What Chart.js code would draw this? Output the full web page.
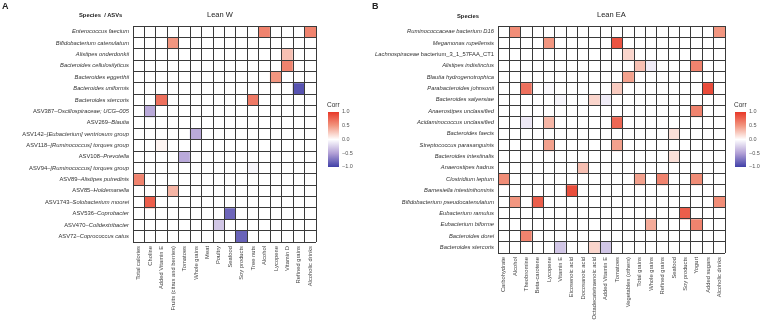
<!DOCTYPE html>
<html><head><meta charset="utf-8">
<script src="https://cdn.jsdelivr.net/npm/chart.js@4.4.0/dist/chart.umd.min.js"></script>
<style>
html,body{margin:0;padding:0;background:#fff;}
#wrap{position:relative;width:762px;height:321px;overflow:hidden;font-family:"Liberation Sans",Arial,sans-serif;}
canvas{position:absolute;top:0;}
.t{position:absolute;white-space:nowrap;color:#222;line-height:1;}
.bar{position:absolute;width:11px;height:55px;background:linear-gradient(to bottom,#e83828 0%,#f29680 25%,#ffffff 50%,#b2a0d6 75%,#4040a8 100%);}
.lt{position:absolute;font-size:5.5px;color:#555;line-height:1;}
</style></head><body>
<div id="wrap">
<canvas id="cA" width="370" height="321" style="left:0"></canvas>
<canvas id="cB" width="392" height="321" style="left:370px"></canvas>
<div class="t" style="left:2px;top:2px;font-size:9px;font-weight:bold;">A</div>
<div class="t" style="left:372px;top:2px;font-size:9px;font-weight:bold;">B</div>
<div class="t" style="left:207px;top:11px;font-size:7.5px;">Lean W</div>
<div class="t" style="left:597px;top:11px;font-size:7.5px;">Lean EA</div>
<div class="t" style="left:79px;top:13px;font-size:5.8px;font-weight:bold;">Species &nbsp;/ ASVs</div>
<div class="t" style="left:457px;top:14px;font-size:5.8px;font-weight:bold;">Species</div>
<div class="t" style="left:327px;top:102px;font-size:6.5px;color:#333;">Corr</div>
<div class="bar" style="left:328px;top:112px;"></div>
<div class="lt" style="left:342px;top:109px;">1.0</div>
<div class="lt" style="left:342px;top:123px;">0.5</div>
<div class="lt" style="left:342px;top:137px;">0.0</div>
<div class="lt" style="left:342px;top:151px;">−0.5</div>
<div class="lt" style="left:342px;top:164px;">−1.0</div>
<div class="t" style="left:734px;top:102px;font-size:6.5px;color:#333;">Corr</div>
<div class="bar" style="left:735px;top:112px;"></div>
<div class="lt" style="left:749px;top:109px;">1.0</div>
<div class="lt" style="left:749px;top:123px;">0.5</div>
<div class="lt" style="left:749px;top:137px;">0.0</div>
<div class="lt" style="left:749px;top:151px;">−0.5</div>
<div class="lt" style="left:749px;top:164px;">−1.0</div>
</div>
<script>
// ---------- Panel A : Lean W ----------
const rowsA = [
  "Enterococcus faecium","Bifidobacterium catenulatum","Alistipes onderdonkii",
  "Bacteroides cellulosilyticus","Bacteroides eggerthii","Bacteroides uniformis",
  "Bacteroides stercoris","ASV387–Oscillospiraceae; UCG–005","ASV269–Blautia",
  "ASV142–[Eubacterium] ventriosum group","ASV118–[Ruminococcus] torques group",
  "ASV108–Prevotella","ASV94–[Ruminococcus] torques group","ASV89–Alistipes putredinis",
  "ASV85–Holdemanella","ASV1743–Solobacterium moorei","ASV536–Coprobacter",
  "ASV470–Colidextribacter","ASV72–Coprococcus catus"
];
const colsA = [
  "Total calories","Choline","Added Vitamin E","Fruits (citrus and berries)","Tomatoes",
  "Whole grains","Meat","Poultry","Seafood","Soy products","Tree nuts","Alcohol",
  "Lycopene","Vitamin D","Refined grains","Alcoholic drinks"
];
const valuesA = [
  [0,0,0,0,0,0,0,0,0,0,0,0.6,0,0,0,0.6],
  [0,0,0,0.5,0,0,0,0,0,0,0,0,0,0,0,0],
  [0,0,0,0,0,0,0,0,0,0,0,0,0,0.3,0,0],
  [0,0,0,0,0,0,0,0,0,0,0,0,0,0.6,0,0],
  [0,0,0,0,0,0,0,0,0,0,0,0,0.5,0,0,0],
  [0,0,0,0,0,0,0,0,0,0,0,0,0,0,-0.9,0],
  [0,0,0.7,0,0,0,0,0,0,0,0.65,0,0,0,0,0],
  [0,-0.45,0,0,0,0,0,0,0,0,0,0,0,0,0,0],
  [0,0,0,0,0,0,0,0,0,0,0,0,0,0,0,0],
  [0,0,0,0,0,-0.45,0,0,0,0,0,0,0,0,0,0],
  [0,0,0.05,0,0,0,0,0,0,0,0,0,0,0,0,0],
  [0,0,0,0,-0.45,0,0,0,0,0,0,0,0,0,0,0],
  [0,0,0,0,0,0,0,0,0,0,-0.05,0,0,0,0,0],
  [0.6,0,0,0,0,0,0,0,0,0,0,0,0,0,0,0],
  [0,0,0,0.35,0,0,0,0,0,0,0,0,0,0,0,0],
  [0,0.8,0,0,0,0,0,0,0,0,0,0,0,0,0,0],
  [0,0,0,0,0,0,0,0,-0.8,0,0,0,0,0,0,0],
  [0,0,0,0,0,0,0,-0.3,0,0,0,0,0,0,0,0],
  [0,0,0,0,0,0,0,0,0,-0.82,0,0,0,0,0,0]
];

// ---------- Panel B : Lean EA ----------
const rowsB = [
  "Ruminococcaceae bacterium D16","Megamonas rupellensis","Lachnospiraceae bacterium_3_1_57FAA_CT1",
  "Alistipes indistinctus","Blautia hydrogenotrophica","Parabacteroides johnsonii",
  "Bacteroides salyersiae","Anaerostipes unclassified","Acidaminococcus unclassified",
  "Bacteroides faecis","Streptococcus parasanguinis","Bacteroides intestinalis",
  "Anaerostipes hadrus","Clostridium leptum","Barnesiella intestinihominis",
  "Bifidobacterium pseudocatenulatum","Eubacterium ramulus","Eubacterium biforme",
  "Bacteroides dorei","Bacteroides stercoris"
];
const colsB = [
  "Carbohydrate","Alcohol","Theobromine","Beta-carotene","Lycopene","Vitamin E",
  "Eicosenoic acid","Docosanoic acid","Octadecatetraenoic acid","Added Vitamin E",
  "Tomatoes","Vegetables (others)","Total grains","Whole grains","Refined grains",
  "Seafood","Soy products","Yogurt","Added sugars","Alcoholic drinks"
];
const valuesB = [
  [0,0.55,0,0,0,0,0,0,0,0,0,0,0,0,0,0,0,0,0,0.5],
  [0,0,0,0,0.5,0,0,0,0,0,0.85,0,0,0,0,0,0,0,0,0],
  [0,0,0,0,0,0,0,0,0,0,0,0.2,0,0,0,0,0,0,0,0],
  [0,0,0,0,0,0,0,0,0,0,0,0,0.3,-0.1,0,0,0,0.6,0,0],
  [0,0,0,0,0,0,0,0,0,0,0,0.45,0,0,0,0,0,0,0,0],
  [0,0,0.7,0,-0.03,0,0,0,0,0,0.25,0,0,0,0,0,0,0,0.9,0],
  [0,0,0,0,0,-0.05,0,0,0.2,-0.1,0,0,0,0,0,0,0,0,0,0],
  [0,0,0,0,0,0,0,0,0,0,0,0,0,0,0,0,0,0.6,0,0],
  [0,0,-0.12,0,0.35,0,0,0,0,0,0.75,0,0,0,0,0,0,0,0,0],
  [0,0,0,0,0,0,0,0,0,0,0,0,0,0,0,0.15,0,0,0,0],
  [0,0,0,0,0.45,0,0,0,0,0,0.45,0,0,0,0,0,0,0,0,0],
  [0,0,0,0,0,0,0,0,0,0,0,0,0,0,0,0.15,0,0,0,0],
  [0,0,0,0,0,0,0,0.3,0,0,0,0,0,0,0,0,0,0,0,0],
  [0.55,0,0,0,0,0,0,0,0,0,0,0,0.45,0,0.6,0,0,0.55,0,0],
  [0,0,0,0,0,0,0.88,0,0,0,0,0,0,0,0,0,0,0,0,0],
  [0,0.5,0,0.8,0,0,0,0,0,0,0,0,0,0,0,0,0,0,0,0.55],
  [0,0,0,0,0,0,0,0,0,0,0,0,0,0,0,0,0.8,0,0,0],
  [0,0,0,0,0,0,0,0,0,0,0,0,0,0.4,0,0,0,0.6,0,0],
  [0,0,0.6,0,0,0,0,0,0,0,0,0,0,0,0,0,0,0,0,0],
  [0,0,0,0,0,-0.3,0,0,0.2,-0.3,0,0,0,0,0,0,0,0,0,0]
];

const FONT = "'Liberation Sans', Arial, sans-serif";
const STOPS = [[-1,[64,64,168]],[-0.5,[178,160,214]],[0,[255,255,255]],[0.5,[242,150,128]],[1,[232,56,40]]];
function corrColor(v){
  for(let k=0;k<STOPS.length-1;k++){
    const [a,ca]=STOPS[k],[b,cb]=STOPS[k+1];
    if(v>=a && v<=b){
      const t=(v-a)/(b-a);
      const c=ca.map((x,i)=>Math.round(x+(cb[i]-x)*t));
      return `rgb(${c[0]},${c[1]},${c[2]})`;
    }
  }
  return '#fff';
}
function labelParts(s){
  let m = s.match(/^(ASV\d+–)(.*)$/);
  if(m) return [[m[1],false],[m[2],true]];
  m = s.match(/^(Lachnospiraceae )(.*)$/);
  if(m) return [[m[1],true],[m[2],false]];
  return [[s,true]];
}
const rowLabelPlugin = {
  id:'rowLabels',
  afterDraw(chart){
    const rows = chart.config.options.plugins.rowLabels.rows;
    const ctx = chart.ctx, ys = chart.scales.y, x0 = chart.chartArea.left - 4;
    ctx.save();
    ctx.fillStyle = '#333';
    ctx.textBaseline = 'middle';
    ctx.textAlign = 'left';
    rows.forEach((r,i)=>{
      const y = ys.getPixelForValue(i);
      const parts = labelParts(r);
      let widths = parts.map(([t,it])=>{ctx.font=(it?'italic ':'')+'5.8px '+FONT;return ctx.measureText(t).width;});
      let x = x0 - widths.reduce((a,b)=>a+b,0);
      parts.forEach(([t,it],k)=>{ctx.font=(it?'italic ':'')+'5.8px '+FONT;ctx.fillText(t,x,y);x+=widths[k];});
    });
    ctx.restore();
  }
};
function makeChart(id, rows, cols, vals, g){
  const datasets = rows.map((r,i)=>({
    label:r,
    data: cols.map(()=>[i-0.5,i+0.5]),
    backgroundColor: cols.map((c,j)=>corrColor(vals[i][j])),
    borderWidth:0, grouped:false, barPercentage:1, categoryPercentage:1
  }));
  return new Chart(document.getElementById(id),{
    type:'bar',
    data:{labels:cols, datasets},
    options:{
      responsive:false, animation:false, devicePixelRatio:1,
      layout:{padding:{left:0,top:g.top,right:g.right,bottom:0}},
      plugins:{legend:{display:false},tooltip:{enabled:false},title:{display:false},rowLabels:{rows}},
      scales:{
        x:{type:'category', offset:true,
           grid:{offset:true,color:'#3a3a3a',lineWidth:1,drawTicks:false,z:1},
           border:{display:false},
           ticks:{autoSkip:false,minRotation:90,maxRotation:90,padding:4,color:'#444',font:{size:5.8,family:FONT}},
           afterFit:s=>{s.height=g.xh;}},
        y:{type:'linear', min:-0.5, max:rows.length-0.5, reverse:true,
           afterBuildTicks:s=>{s.ticks=[];for(let k=0;k<=rows.length;k++)s.ticks.push({value:k-0.5});},
           ticks:{display:false},
           grid:{color:'#3a3a3a',lineWidth:1,drawTicks:false,z:1},
           border:{display:false},
           afterFit:s=>{s.width=g.yw;}}
      }
    },
    plugins:[rowLabelPlugin]
  });
}
makeChart('cA', rowsA, colsA, valuesA, {top:26, right:54, xh:79, yw:133});
makeChart('cB', rowsB, colsB, valuesB, {top:26, right:37, xh:68, yw:128});
</script>
</body></html>
